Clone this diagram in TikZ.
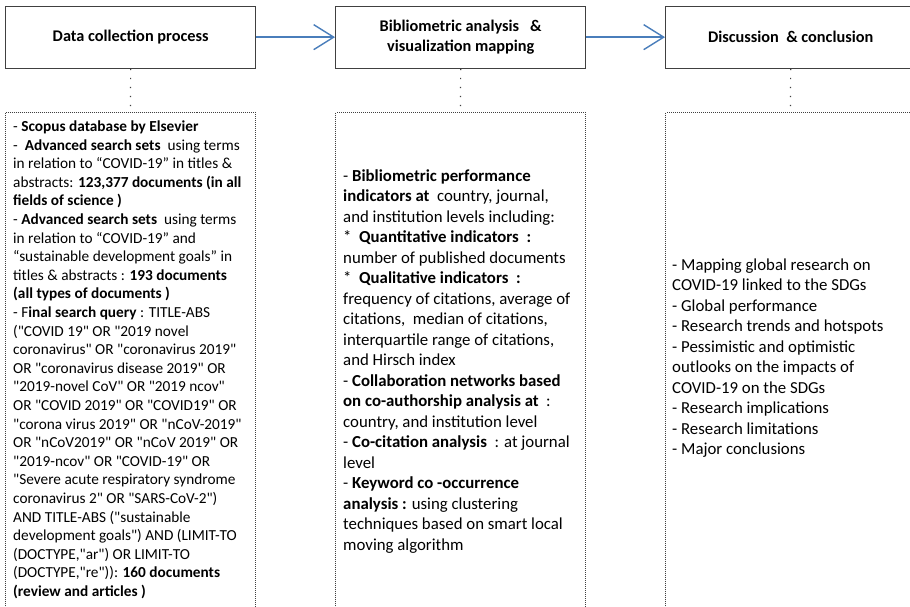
\documentclass[tikz,border=0pt]{standalone}
\usepackage{fontspec}
\setmainfont{Carlito}[Ligatures=TeXOff]
\usetikzlibrary{arrows.meta}
\definecolor{boxgray}{HTML}{404040}
\definecolor{arrblue}{HTML}{4A7EBB}
\begin{document}
\begin{tikzpicture}[x=1pt,y=-1pt,
  topbox/.style={draw=boxgray, line width=1.3pt, minimum width=250pt, minimum height=62pt, anchor=north west, inner sep=0pt, align=center, font=\fontsize{16.3}{20}\selectfont\bfseries},
  dotbox/.style={draw=boxgray, line width=1pt, dash pattern=on 1pt off 1pt, minimum width=250pt, minimum height=510pt, anchor=north west, inner sep=0pt},
  flowarrow/.style={draw=arrblue, line width=1.6pt, -{Straight Barb[length=20pt,width=25pt,line width=1.4pt]}},
  linkdots/.style={draw=boxgray, line width=1.2pt, dash pattern=on 1.2pt off 7.8pt},
  leftbody/.style={anchor=north west, inner sep=0pt, align=left, font=\fontsize{15.3}{18.6}\selectfont},
  body/.style={anchor=north west, inner sep=0pt, align=left, font=\fontsize{16.8}{20.5}\selectfont},
]
\useasboundingbox (0,0) rectangle (910,606);
\clip (0,0) rectangle (910,606);

\node[topbox] (t1) at (5,5.5) {Data collection process};
\node[topbox] (t2) at (335,5.5) {Bibliometric analysis \ \ \&\\visualization mapping};
\node[topbox] (t3) at (665,5.5) {Discussion \ \& conclusion};

\node[dotbox] (d1) at (5,112) {};
\node[dotbox] (d2) at (335,112) {};
\node[dotbox] (d3) at (665,112) {};

\draw[flowarrow] (t1.east) -- (t2.west);
\draw[flowarrow] (t2.east) -- (t3.west);

\draw[linkdots] (t1.south) -- (d1.north);
\draw[linkdots] (t2.south) -- (d2.north);
\draw[linkdots] (t3.south) -- (d3.north);

\node[leftbody] (x1) at (13,120.5) {%
- \textbf{Scopus database by Elsevier}\\
- \ \textbf{Advanced search sets} \ using terms\\
in relation to “COVID-19” in titles \&\\
abstracts: \textbf{123,377 documents (in all}\\
\textbf{fields of science )}\\
- \textbf{Advanced search sets} \ using terms\\
in relation to “COVID-19” and\\
“sustainable development goals” in\\
titles \& abstracts : \textbf{193 documents}\\
\textbf{(all types of documents )}\\
- F\textbf{inal search query} : TITLE-ABS\\
("COVID 19" OR "2019 novel\\
coronavirus" OR "coronavirus 2019"\\
OR "coronavirus disease 2019" OR\\
"2019-novel CoV" OR "2019 ncov"\\
OR "COVID 2019" OR "COVID19" OR\\
"corona virus 2019" OR "nCoV-2019"\\
OR "nCoV2019" OR "nCoV 2019" OR\\
"2019-ncov" OR "COVID-19" OR\\
"Severe acute respiratory syndrome\\
coronavirus 2" OR "SARS-CoV-2")\\
AND TITLE-ABS ("sustainable\\
development goals") AND (LIMIT-TO\\
(DOCTYPE,"ar") OR LIMIT-TO\\
(DOCTYPE,"re")): \textbf{160 documents}\\
\textbf{(review and articles )}};

\node[body] (x2) at (343,169.5) {%
- \textbf{Bibliometric performance}\\
\textbf{indicators at} \ country, journal,\\
and institution levels including:\\
* \ \textbf{Quantitative indicators \ :}\\
number of published documents\\
* \ \textbf{Qualitative indicators \ :}\\
frequency of citations, average of\\
citations, \ median of citations,\\
interquartile range of citations,\\
and Hirsch index\\
- \textbf{Collaboration networks based}\\
\textbf{on co-authorship analysis at} \ :\\
country, and institution level\\
- \textbf{Co-citation analysis} \ : at journal\\
level\\
- \textbf{Keyword co -occurrence}\\
\textbf{analysis :} using clustering\\
techniques based on smart local\\
moving algorithm};

\node[body] (x3) at (672,258.5) {%
- Mapping global research on\\
COVID-19 linked to the SDGs\\
- Global performance\\
- Research trends and hotspots\\
- Pessimistic and optimistic\\
outlooks on the impacts of\\
COVID-19 on the SDGs\\
- Research implications\\
- Research limitations\\
- Major conclusions};
\end{tikzpicture}
\end{document}
